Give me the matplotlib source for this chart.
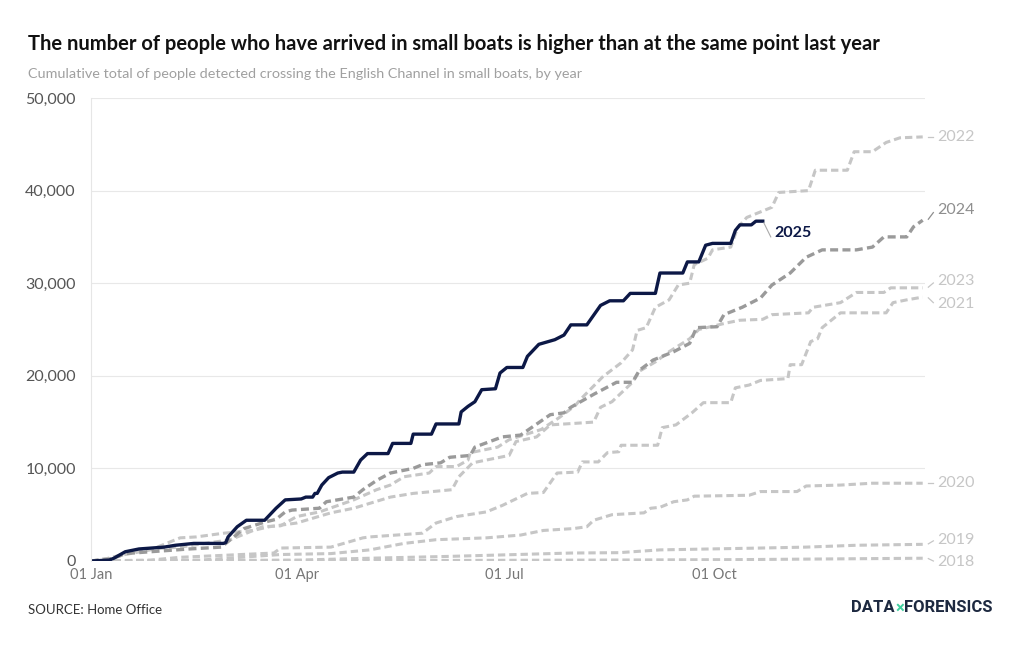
import matplotlib
matplotlib.use("Agg")
import matplotlib.pyplot as plt
import matplotlib.transforms as mtransforms

plt.rcParams['font.family'] = ['Lato', 'DejaVu Sans']

# day of year -> cumulative arrivals
days_2025 = [0, 8, 10, 15, 21, 32, 37, 45, 58, 59, 60, 64, 68, 76, 81, 85, 92, 94, 97, 98, 99, 101, 104, 108,
             110, 115, 118, 121, 130, 132, 140, 141, 149, 151, 161, 162, 165, 168, 171, 177, 179, 182, 189,
             191, 196, 203, 207, 210, 217, 219, 223, 227, 233, 236, 247, 249, 259, 261, 266, 269, 272, 280,
             282, 284, 289, 291, 294]
vals_2025 = [0, 100, 300, 1000, 1300, 1500, 1700, 1900, 1900, 2000, 2600, 3700, 4400, 4400, 5700, 6600, 6700,
             6900, 6900, 7300, 7300, 8200, 9000, 9500, 9600, 9600, 10900, 11600, 11600, 12700, 12700, 13700,
             13700, 14800, 14800, 16100, 16700, 17200, 18500, 18600, 20300, 20900, 20900, 22100, 23400, 23900,
             24400, 25500, 25500, 26200, 27600, 28100, 28100, 28900, 28900, 31100, 31100, 32300, 32300, 34100,
             34300, 34300, 35700, 36300, 36300, 36700, 36700]

days_2024 = [0, 8, 12, 15, 26, 43, 57, 62, 67, 76, 81, 85, 88, 100, 103, 115, 119, 125, 131, 141, 145, 153,
             157, 166, 168, 180, 188, 191, 201, 207, 210, 220, 230, 237, 240, 246, 255, 262, 265, 274, 277,
             285, 293, 298, 306, 313, 320, 335, 342, 347, 357, 360, 364]
vals_2024 = [0, 200, 500, 800, 1000, 1300, 1500, 2500, 3500, 4200, 4500, 5300, 5500, 5700, 6400, 6900, 7700,
             8700, 9500, 10000, 10400, 10600, 11200, 11400, 12300, 13400, 13600, 14100, 15800, 16000, 16600,
             18000, 19300, 19300, 20600, 21700, 22600, 23500, 25200, 25300, 26600, 27400, 28400, 29800, 31100,
             32800, 33600, 33600, 33900, 35000, 35000, 36100, 36800]

days_2023 = [0, 8, 15, 26, 39, 46, 58, 71, 78, 90, 105, 115, 123, 131, 141, 158, 161, 167, 183, 186, 195, 201,
             214, 220, 223, 228, 231, 237, 240, 247, 253, 262, 266, 278, 284, 294, 298, 314, 316, 328, 335,
             347, 350, 364]
vals_2023 = [0, 300, 700, 1200, 2500, 2600, 3000, 3300, 3700, 4100, 5200, 5700, 6300, 6900, 7300, 7700, 9100,
             10600, 11400, 12900, 13400, 14700, 14900, 15000, 16600, 17200, 17900, 19300, 20500, 21500, 22600,
             24000, 25000, 25700, 26000, 26100, 26600, 26800, 27400, 27900, 29000, 29000, 29500, 29500]

days_2022 = [0, 8, 15, 26, 39, 61, 75, 83, 90, 100, 115, 125, 131, 137, 148, 151, 160, 165, 166, 178, 183,
             197, 205, 212, 214, 224, 232, 237, 239, 243, 247, 253, 257, 262, 264, 270, 272, 280, 283, 287,
             293, 298, 301, 314, 317, 331, 334, 342, 348, 354, 364]
vals_2022 = [0, 300, 800, 1300, 1500, 2300, 3700, 3800, 4800, 5300, 6600, 7700, 8200, 9100, 9500, 10200, 10200,
             10900, 11700, 12300, 13100, 14200, 15500, 16800, 17400, 19900, 21400, 22800, 24900, 25200, 27400,
             28200, 29800, 30000, 32000, 32700, 33600, 33900, 36000, 37100, 37700, 38200, 39800, 40000, 42200,
             42200, 44200, 44200, 45200, 45700, 45800]

days_2021 = [0, 26, 39, 80, 83, 105, 119, 122, 145, 151, 160, 173, 180, 191, 198, 204, 213, 215, 222, 226,
             231, 232, 248, 250, 256, 263, 268, 280, 282, 288, 293, 305, 306, 311, 315, 318, 320, 323, 328,
             348, 351, 357, 364]
vals_2021 = [0, 100, 400, 860, 1400, 1500, 2500, 2600, 3000, 4100, 4800, 5300, 6000, 7300, 7400, 9500, 9600,
             10700, 10700, 11700, 11800, 12500, 12500, 14400, 14700, 16000, 17100, 17100, 18700, 19000, 19500,
             19700, 21200, 21200, 23700, 24000, 25200, 25800, 26800, 26800, 27900, 28200, 28500]

days_2020 = [0, 48, 83, 105, 122, 137, 151, 173, 188, 198, 211, 217, 220, 228, 242, 245, 249, 255, 261, 264,
             288, 293, 309, 313, 328, 342, 364]
vals_2020 = [0, 100, 700, 800, 1200, 1900, 2300, 2500, 2800, 3300, 3500, 3700, 4400, 5000, 5200, 5700, 5800,
             6400, 6600, 7000, 7100, 7500, 7500, 8100, 8200, 8400, 8400]

days_2019 = [0, 91, 122, 157, 210, 231, 249, 293, 313, 335, 364]
vals_2019 = [0, 100, 300, 500, 860, 900, 1200, 1400, 1500, 1700, 1800]

days_2018 = [0, 135, 223, 284, 364]
vals_2018 = [0, 50, 100, 150, 300]

NAVY = '#0c1846'
LIGHT = '#c6c6c6'
DARK = '#9a9a9a'
DASH = (0, (2.4, 1.3))

fig = plt.figure(figsize=(10.2, 6.5), dpi=100)
ax = fig.add_axes([91/1020, 1-561/650, 834/1020, 463/650])

# grey background years first
ax.plot(days_2018, vals_2018, color=LIGHT, lw=2.2, ls=DASH)
ax.plot(days_2019, vals_2019, color=LIGHT, lw=2.2, ls=DASH)
ax.plot(days_2020, vals_2020, color=LIGHT, lw=2.2, ls=DASH)
ax.plot(days_2021, vals_2021, color=LIGHT, lw=2.2, ls=DASH)
ax.plot(days_2023, vals_2023, color=LIGHT, lw=2.2, ls=DASH)
ax.plot(days_2022, vals_2022, color=LIGHT, lw=2.2, ls=DASH)
ax.plot(days_2024, vals_2024, color=DARK, lw=2.4, ls=DASH)
ax.plot(days_2025, vals_2025, color=NAVY, lw=2.4, solid_joinstyle='round')

ax.set_xlim(0, 365)
ax.set_ylim(0, 50000)
ax.set_yticks([0, 10000, 20000, 30000, 40000, 50000])
ax.set_yticklabels(['0', '10,000', '20,000', '30,000', '40,000', '50,000'])
ax.set_xticks([0, 90, 181, 273])
ax.set_xticklabels(['01 Jan', '01 Apr', '01 Jul', '01 Oct'])
ax.grid(axis='y', color='#e8e8e8', lw=0.8)
ax.set_axisbelow(True)
for s in ['top', 'right', 'bottom']:
    ax.spines[s].set_visible(False)
ax.spines['left'].set_color('#e6e6e6')
ax.tick_params(axis='y', length=0, pad=11, labelsize=11.5, labelcolor='#555555')
ax.tick_params(axis='x', length=0, pad=5, labelsize=10.5, labelcolor='#777777')

# end labels with short leader ticks
tr = mtransforms.blended_transform_factory(ax.transAxes, ax.transData)
labels = [
    ('2022', 45800, 45800, LIGHT),
    ('2024', 36800, 37900, '#8e8e8e'),
    ('2023', 29500, 30200, LIGHT),
    ('2021', 28500, 27700, LIGHT),
    ('2020', 8400, 8400, LIGHT),
    ('2019', 1800, 2300, LIGHT),
    ('2018', 300, -100, LIGHT),
]
for name, yend, ylab, col in labels:
    ax.plot([1.004, 1.01], [yend + (ylab - yend) * 0.1, ylab - (ylab - yend) * 0.25 if ylab != yend else ylab],
            transform=tr, color=col, lw=0.9, clip_on=False)
    ax.text(1.0145, ylab, name, transform=tr, color=col, fontsize=11.5, va='center', ha='left')

# 2025 label
ax.plot([294.5, 297.5], [36500, 35000], color='#aaaaaa', lw=0.8)
ax.text(299, 35400, '2025', color=NAVY, fontsize=11.5, fontweight='bold', va='center', ha='left')

fig.text(28/1020, 1-44/650, 'The number of people who have arrived in small boats is higher than at the same point last year',
         fontsize=14.5, fontweight='bold', color='#111111', va='center', ha='left')
fig.text(28/1020, 1-74/650, 'Cumulative total of people detected crossing the English Channel in small boats, by year',
         fontsize=10.4, color='#a0a0a0', va='center', ha='left')
fig.text(28/1020, 1-610/650, 'SOURCE: Home Office', fontsize=9.5, color='#333333', va='center', ha='left')

# logo: pieces placed one after another
logo_font = ['Roboto', 'DejaVu Sans']
fig.canvas.draw()
rend = fig.canvas.get_renderer()
xpos = 851
for piece, col in [('DATA', '#1d2940'), ('×', '#3fcf9f'), ('FORENSICS', '#1d2940')]:
    t = fig.text(xpos/1020, 1-608/650, piece, fontsize=12, fontweight='bold', color=col,
                 va='center', ha='left', family=logo_font)
    xpos = t.get_window_extent(rend).x1 + 0.5

fig.savefig('out.png', dpi=100, facecolor='white')
